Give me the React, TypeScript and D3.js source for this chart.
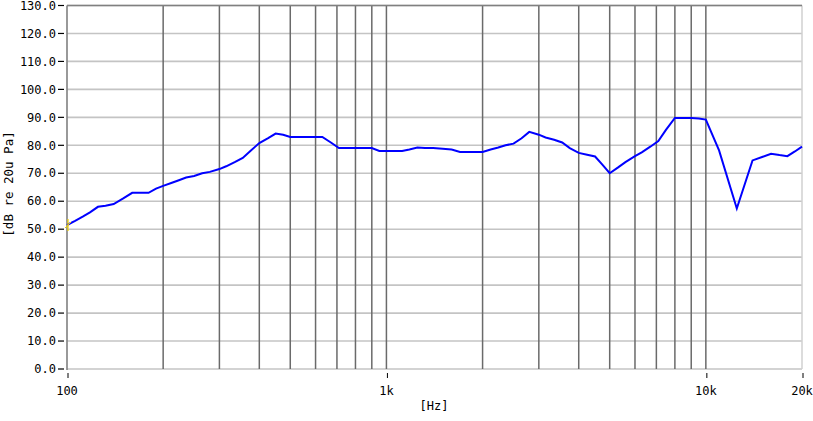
import React from "react";
import * as d3 from "d3";

const freqs = [100,106,112,118,125,132,140,150,160,170,180,190,200,212,224,236,250,265,280,300,315,335,355,375,400,425,450,475,500,530,560,600,630,670,710,750,800,850,900,950,1000,1060,1120,1180,1250,1320,1400,1500,1600,1700,1800,1900,2000,2120,2240,2360,2500,2650,2800,3000,3150,3350,3550,3750,4000,4250,4500,4750,5000,5300,5600,6000,6300,6700,7100,7500,8000,8500,9000,9500,10000,11000,12500,14000,15000,16000,17000,18000,19000,20000];
const levels = [51.5,53,54.5,56,58,58.4,59,61,63,63,63,64.5,65.5,66.5,67.5,68.5,69,70,70.5,71.5,72.5,74,75.5,78,80.8,82.5,84.2,83.8,83,83,83,83,83,81,79,79,79,79,79,78,78,78,78,78.5,79.2,79,79,78.8,78.5,77.6,77.6,77.6,77.6,78.5,79.2,80,80.6,82.5,84.8,83.8,82.8,82,81,79,77.3,76.6,76,73,70,72,74,76.1,77.5,79.5,81.5,85.5,89.8,89.8,89.8,89.6,89.2,78.2,57.4,74.6,75.8,77,76.5,76.1,77.8,79.5];
const yTicks = [0,10,20,30,40,50,60,70,80,90,100,110,120,130];
const xTickVals = [100,1000,10000,20000];
const xTickLabels = ["100","1k","10k","20k"];
const gridFreqs = [200,300,400,500,600,700,800,900,1000,2000,3000,4000,5000,6000,7000,8000,9000,10000];

export default function App() {
  const W = 813, H = 421;
  const left = 67, right = 802, top = 5.5, bottom = 369;
  const x = d3.scaleLog().domain([100, 20000]).range([left, right]);
  const y = d3.scaleLinear().domain([0, 130]).range([bottom, top]);
  const data = freqs.map((f, i) => [f, levels[i]] as [number, number]);
  const line = d3.line<[number, number]>().x(d => x(d[0])).y(d => y(d[1]));
  const font = "'DejaVu Sans Mono', 'Liberation Mono', monospace";
  return (
    <svg width={W} height={H} style={{ position: "absolute", left: 0, top: 0, background: "#fff" }}>
      {yTicks.map(t => (
        <line key={"h" + t} x1={left} x2={right} y1={y(t)} y2={y(t)} stroke="#c4c4c4" strokeWidth={1.6} />
      ))}
      {gridFreqs.map(f => (
        <line key={"v" + f} x1={x(f)} x2={x(f)} y1={top} y2={bottom} stroke="#6a6a6a" strokeWidth={1.5} />
      ))}
      <line x1={right} x2={right} y1={top} y2={bottom} stroke="#d0d0d0" strokeWidth={1.5} />
      <line x1={left} x2={right} y1={top} y2={top} stroke="#808080" strokeWidth={1.6} />
      <line x1={left} x2={left} y1={top} y2={bottom + 1} stroke="#808080" strokeWidth={1.6} />
      {yTicks.map(t => (
        <g key={"yt" + t}>
          <line x1={58} x2={64} y1={y(t)} y2={y(t)} stroke="#000" strokeWidth={1.2} />
          <text x={56} y={y(t)} dy="0.35em" textAnchor="end" fontFamily={font} fontSize={12} fill="#000">
            {t.toFixed(1)}
          </text>
        </g>
      ))}
      {xTickVals.map((v, i) => (
        <g key={"xt" + v}>
          <line x1={x(v) + 1} x2={x(v) + 1} y1={373} y2={378} stroke="#000" strokeWidth={1} />
          <text x={x(v)} y={395} textAnchor="middle" fontFamily={font} fontSize={12} fill="#000">
            {xTickLabels[i]}
          </text>
        </g>
      ))}
      <text x={434} y={410} textAnchor="middle" fontFamily={font} fontSize={12} fill="#000">[Hz]</text>
      <text transform="translate(13,184) rotate(-90)" textAnchor="middle" fontFamily={font} fontSize={12.5} fill="#000">
        [dB re 20u Pa]
      </text>
      <path d={line(data) || ""} fill="none" stroke="#0000ff" strokeWidth={2} />
      <line x1={x(100) + 1} x2={x(100) + 1} y1={y(levels[0]) - 6} y2={y(levels[0]) + 6} stroke="#f0d000" strokeWidth={1.2} />
      <line x1={x(100) - 2} x2={x(100) + 4} y1={y(levels[0]) + 3} y2={y(levels[0]) - 3} stroke="#f0d000" strokeWidth={1} />
    </svg>
  );
}
